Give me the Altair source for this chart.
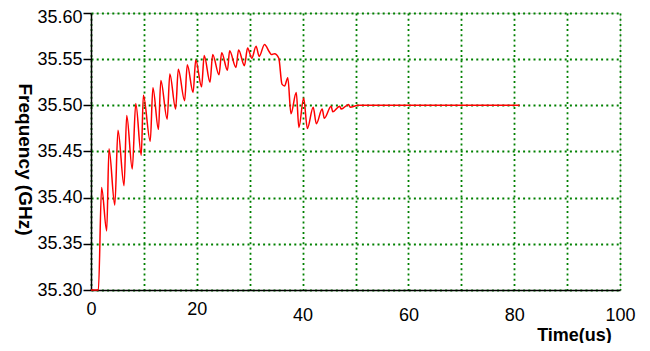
import altair as alt
import pandas as pd

# Time (us) and frequency (GHz)
time_us = [0, 1.4, 2.0, 2.97, 3.4, 4.5, 5.1, 6.25, 6.75, 7.8, 8.46, 9.5, 9.9, 11.2,
           11.7, 12.75, 13.2, 14.4, 14.9, 16.0, 16.5, 17.7, 18.2, 19.3, 19.8, 20.9,
           21.4, 22.5, 23.0, 24.2, 24.7, 25.8, 26.2, 27.4, 27.9, 29.0, 29.6, 30.4,
           31.2, 31.8, 32.8, 33.7, 34.1, 34.7, 35.5, 36.1, 36.6, 37.2, 37.8, 38.8,
           39.3, 40.2, 40.9, 42.0, 42.6, 43.7, 44.1, 45.4, 45.7, 47.0, 47.3, 48.7,
           49.0, 50.5, 52.0, 81.0]
freq_ghz = [35.300, 35.300, 35.411, 35.364, 35.453, 35.392, 35.473, 35.413, 35.489,
            35.431, 35.502, 35.446, 35.511, 35.461, 35.519, 35.474, 35.527, 35.485,
            35.534, 35.496, 35.539, 35.505, 35.544, 35.514, 35.549, 35.520, 35.554,
            35.525, 35.555, 35.533, 35.557, 35.538, 35.559, 35.541, 35.560, 35.543,
            35.562, 35.551, 35.564, 35.553, 35.566, 35.558, 35.555, 35.556, 35.551,
            35.523, 35.521, 35.530, 35.491, 35.514, 35.476, 35.508, 35.475, 35.498,
            35.480, 35.496, 35.486, 35.499, 35.493, 35.499, 35.496, 35.501, 35.498,
            35.500, 35.500, 35.500]

x_ticks = [0, 10, 20, 30, 40, 50, 60, 70, 80, 90, 100]
y_ticks = [35.30, 35.35, 35.40, 35.45, 35.50, 35.55, 35.60]

df = pd.DataFrame({"t": time_us, "f": freq_ghz})

FONT = "Liberation Sans"
GRID_GREEN = "#008000"

chart = alt.Chart(df).mark_line(
    color="#ff0000", strokeWidth=1.5, interpolate="monotone"
).encode(
    x=alt.X(
        "t:Q",
        scale=alt.Scale(domain=[0, 100], nice=False, zero=False),
        axis=alt.Axis(
            values=x_ticks,
            labelExpr="datum.value % 20 === 0 ? datum.label : ''",
            title="Time(us)",
            titleX=483,
            titleY=45,
            titleAlign="center",
            titleBaseline="middle",
            titleFont=FONT,
            titleFontSize=18,
            titleFontWeight="bold",
            titleColor="black",
            labelFont=FONT,
            labelFontSize=18,
            labelColor="black",
            labelPadding={"condition": {"test": "datum.value >= 40", "value": 16}, "value": 10},
            ticks=False,
            domainColor="black",
            domainWidth=1.5,
            grid=True,
            gridColor=GRID_GREEN,
            gridDash=[2, 3.2],
            gridWidth=1.8,
            labelFlush=False,
            zindex=0,
        ),
    ),
    y=alt.Y(
        "f:Q",
        scale=alt.Scale(domain=[35.30, 35.60], nice=False, zero=False),
        axis=alt.Axis(
            values=y_ticks,
            format=".2f",
            title="Frequency (GHz)",
            titleAngle=90,
            titleX=-67,
            titleY=146,
            titleAlign="center",
            titleBaseline="middle",
            titleFont=FONT,
            titleFontSize=19,
            titleFontWeight="bold",
            titleColor="black",
            labelFont=FONT,
            labelFontSize=18,
            labelColor="black",
            labelPadding=1,
            labelOffset={"condition": {"test": "datum.value > 35.59", "value": 4}, "value": 0},
            tickSize=8,
            tickColor="black",
            tickWidth=1.5,
            domainColor="black",
            domainWidth=1.5,
            grid=True,
            gridColor=GRID_GREEN,
            gridDash=[2, 3.2],
            gridWidth=1.8,
            labelFlush=False,
            zindex=0,
        ),
    ),
).properties(
    width=529,
    height=277,
    autosize=alt.AutoSizeParams(type="none"),
    padding={"left": 83, "top": 5, "right": 20, "bottom": 53},
).configure_view(stroke=None).configure(background="white")

chart.save("out.html", embed_options={"renderer": "svg", "actions": False})
